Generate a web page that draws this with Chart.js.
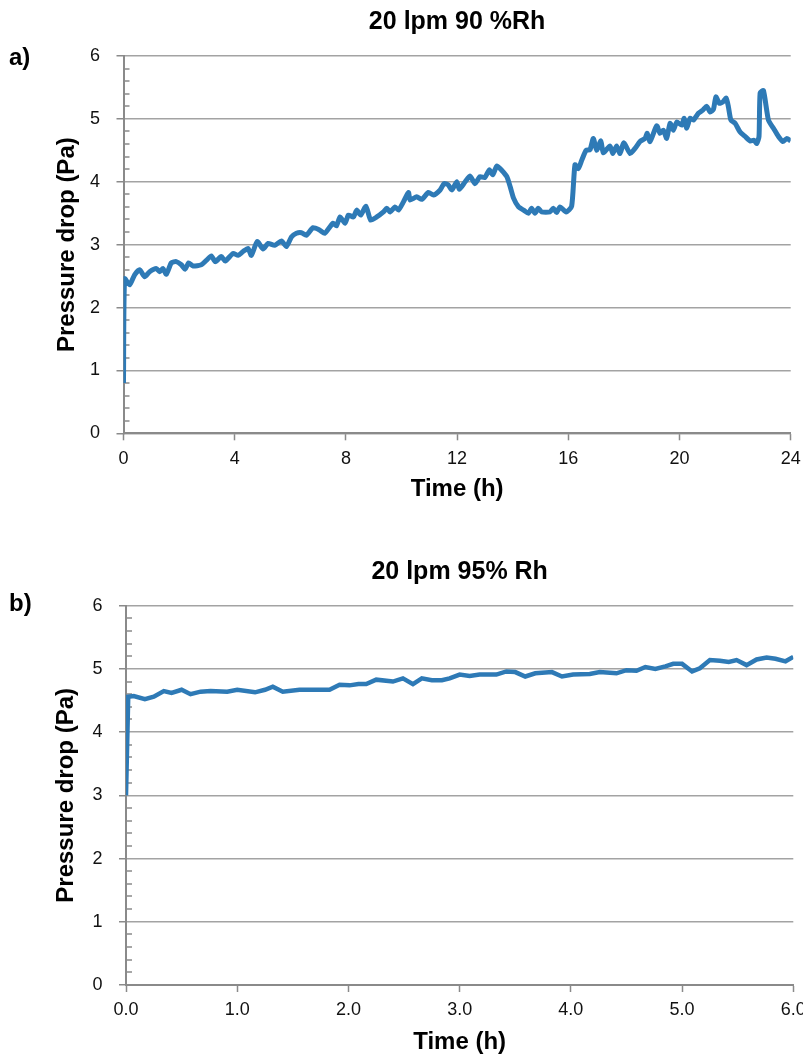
<!DOCTYPE html>
<html>
<head>
<meta charset="utf-8">
<script src="https://cdn.jsdelivr.net/npm/chart.js@4.4.1/dist/chart.umd.min.js"></script>
<style>
  body { margin: 0; background: #fff; width: 803px; height: 1059px; position: relative; overflow: hidden; }
  canvas { position: absolute; left: 0; }
  #chartA { top: 0; }
  #chartB { top: 530px; }
  .panel { position: absolute; left: 9px; font: bold 24px/24px "Liberation Sans", Arial, sans-serif; color: #000; }
</style>
</head>
<body>
<canvas id="chartA" width="803" height="530"></canvas>
<canvas id="chartB" width="803" height="529"></canvas>
<div class="panel" style="top:45px">a)</div>
<div class="panel" style="top:591px">b)</div>
<script>
// a) 20 lpm 90 %Rh
const timeA = [
  0, 0.04, 0.22, 0.4, 0.58, 0.76, 0.94, 1.18, 1.30, 1.42,
  1.54, 1.72, 1.90, 2.08, 2.22, 2.34, 2.50, 2.80, 2.98, 3.16,
  3.30, 3.52, 3.66, 3.94, 4.12, 4.30, 4.48, 4.60, 4.81, 5.02,
  5.20, 5.44, 5.68, 5.86, 6.04, 6.22, 6.40, 6.58, 6.82, 7.06,
  7.24, 7.42, 7.54, 7.66,
  7.79, 7.97, 8.09, 8.27, 8.39, 8.53, 8.72, 8.89, 9.11, 9.35,
  9.47, 9.59, 9.77, 9.89, 10.07, 10.25, 10.31, 10.55, 10.73, 10.97,
  11.15, 11.39, 11.53, 11.68, 11.81, 11.99, 12.08, 12.29, 12.47, 12.64,
  12.82, 13.0, 13.16, 13.28, 13.43, 13.61, 13.79, 13.91, 14.03, 14.21,
  14.39, 14.57, 14.68, 14.80, 14.92, 15.04, 15.34, 15.46, 15.58,
  15.70, 15.92, 16.12, 16.24, 16.36, 16.49, 16.64, 16.78, 16.90, 17.02,
  17.17, 17.26, 17.50, 17.60, 17.74, 17.86, 18.0, 18.22, 18.40, 18.58,
  18.76, 18.84, 18.94, 19.18, 19.30, 19.42, 19.54, 19.66, 19.78, 19.90,
  20.08, 20.17, 20.26, 20.38, 20.50, 20.68, 20.84, 20.98, 21.10, 21.22,
  21.31, 21.43, 21.56, 21.68, 21.76, 21.85, 22.0, 22.18, 22.36, 22.54,
  22.68, 22.78, 22.86, 22.90, 23.02, 23.20, 23.38, 23.56, 23.72, 23.86,
  24.0
];
const pressureA = [
  0.8, 2.46, 2.36, 2.52, 2.60, 2.49, 2.57, 2.62, 2.57, 2.62,
  2.53, 2.71, 2.73, 2.68, 2.61, 2.71, 2.66, 2.68, 2.75, 2.82,
  2.73, 2.81, 2.74, 2.86, 2.83, 2.89, 2.94, 2.83, 3.05, 2.93,
  3.02, 2.99, 3.06, 2.97, 3.12, 3.18, 3.19, 3.15, 3.27, 3.23,
  3.18, 3.28, 3.34, 3.30,
  3.44, 3.34, 3.47, 3.44, 3.55, 3.47, 3.61, 3.39, 3.44, 3.52,
  3.58, 3.52, 3.60, 3.55, 3.68, 3.83, 3.71, 3.76, 3.72, 3.83,
  3.79, 3.87, 3.97, 3.95, 3.87, 4.0, 3.88, 4.0, 4.09, 3.97,
  4.08, 4.07, 4.19, 4.11, 4.25, 4.18, 4.08, 3.92, 3.74, 3.60,
  3.55, 3.50, 3.58, 3.50, 3.58, 3.52, 3.52, 3.58, 3.51,
  3.60, 3.52, 3.61, 4.27, 4.21, 4.35, 4.50, 4.51, 4.69, 4.50,
  4.65, 4.46, 4.57, 4.45, 4.57, 4.45, 4.62, 4.45, 4.53, 4.64,
  4.69, 4.77, 4.64, 4.89, 4.77, 4.82, 4.69, 4.93, 4.82, 4.95,
  4.90, 5.01, 4.85, 5.01, 4.98, 5.09, 5.14, 5.20, 5.11, 5.15,
  5.35, 5.25, 5.27, 5.33, 5.19, 4.98, 4.93, 4.79, 4.72, 4.65,
  4.66, 4.61, 4.72, 5.41, 5.45, 4.98, 4.85, 4.72, 4.64, 4.69,
  4.65
];

// b) 20 lpm 95% Rh
const timeB = [
  0, 0.02, 0.07, 0.17, 0.25, 0.34, 0.41, 0.50, 0.58, 0.67,
  0.76, 0.91, 1.0, 1.16, 1.25, 1.32, 1.41, 1.56, 1.74, 1.83,
  1.92, 2.01, 2.09, 2.16, 2.25, 2.40, 2.49, 2.58, 2.66, 2.75,
  2.84, 2.91, 3.0, 3.09, 3.18, 3.33, 3.42, 3.50, 3.59, 3.68,
  3.83, 3.92, 4.02, 4.17, 4.26, 4.41, 4.50, 4.59, 4.67, 4.76,
  4.85, 4.92, 5.0, 5.09, 5.16, 5.25, 5.34, 5.42, 5.49, 5.58,
  5.67, 5.76, 5.84, 5.93, 6.0
];
const pressureB = [
  3.0, 4.56, 4.57, 4.52, 4.56, 4.65, 4.62, 4.67, 4.60, 4.64,
  4.65, 4.64, 4.67, 4.63, 4.67, 4.72, 4.64, 4.67, 4.67, 4.67,
  4.75, 4.74, 4.76, 4.76, 4.83, 4.80, 4.85, 4.76, 4.85, 4.82,
  4.82, 4.85, 4.91, 4.89, 4.91, 4.91, 4.96, 4.95, 4.88, 4.93,
  4.95, 4.88, 4.91, 4.92, 4.95, 4.93, 4.98, 4.97, 5.03, 5.00,
  5.04, 5.08, 5.08, 4.96, 5.01, 5.14, 5.13, 5.11, 5.14, 5.06,
  5.15, 5.18, 5.16, 5.12, 5.19
];

const yTicks = [0, 1, 2, 3, 4, 5, 6];
const xTicksA = [0, 4, 8, 12, 16, 20, 24];
const xTicksB = [0, 1, 2, 3, 4, 5, 6];

const FONT = '"Liberation Sans", Arial, sans-serif';
const GRID = '#a3a3a3';
const AXIS = '#8a8a8a';
const LINE = '#2e7ab6';

// small inside ticks on the y axis, 5 per unit
const minorTicks = {
  id: 'minorTicks',
  beforeDatasetsDraw(chart) {
    const y = chart.scales.y;
    const ctx = chart.ctx;
    const x0 = chart.chartArea.left;
    ctx.save();
    ctx.strokeStyle = AXIS;
    ctx.lineWidth = 1.5;
    for (let i = 0; i < yTicks.length - 1; i++) {
      const step = (yTicks[i + 1] - yTicks[i]) / 5;
      for (let k = 1; k < 5; k++) {
        const py = Math.round(y.getPixelForValue(yTicks[i] + k * step));
        ctx.beginPath();
        ctx.moveTo(x0, py);
        ctx.lineTo(x0 + 6, py);
        ctx.stroke();
      }
    }
    ctx.restore();
  }
};

function makeChart(id, times, values, xTicks, title, box) {
  return new Chart(document.getElementById(id), {
    type: 'line',
    data: {
      datasets: [{
        data: times.map((t, i) => ({ x: t, y: values[i] })),
        borderColor: LINE,
        borderWidth: box.lineWidth,
        pointRadius: 0,
        tension: box.tension,
        fill: false
      }]
    },
    options: {
      responsive: false,
      animation: false,
      layout: { padding: { left: 0, right: box.padRight, top: 0, bottom: 0 } },
      plugins: {
        legend: { display: false },
        tooltip: { enabled: false },
        title: {
          display: true,
          text: title,
          fullSize: false,
          color: '#000',
          font: { family: FONT, size: 25, weight: 'bold', lineHeight: 1.2 },
          padding: { top: box.titleTop, bottom: box.titleBottom }
        }
      },
      scales: {
        x: {
          type: 'linear',
          min: xTicks[0],
          max: xTicks[xTicks.length - 1],
          afterBuildTicks: s => { s.ticks = xTicks.map(v => ({ value: v })); },
          afterFit: s => { s.height = box.xHeight; s.paddingLeft = 0; s.paddingRight = 0; },
          ticks: {
            color: '#111',
            font: { family: FONT, size: 18 },
            padding: 7.6,
            maxRotation: 0,
            autoSkip: false,
            callback: v => box.fmt(v)
          },
          grid: { drawOnChartArea: false, tickLength: 7, tickColor: AXIS, tickWidth: 1.5 },
          border: { color: AXIS, width: 2 },
          title: {
            display: true,
            text: 'Time (h)',
            color: '#000',
            font: { family: FONT, size: 24, weight: 'bold', lineHeight: 1.2 },
            padding: { top: 0, bottom: box.xTitleBottom }
          }
        },
        y: {
          min: yTicks[0],
          max: yTicks[yTicks.length - 1],
          afterBuildTicks: s => { s.ticks = yTicks.map(v => ({ value: v })); },
          afterFit: s => { s.width = box.yWidth; s.paddingTop = 0; s.paddingBottom = 0; },
          ticks: { color: '#111', font: { family: FONT, size: 18 }, padding: 16.5 },
          grid: { color: GRID, lineWidth: 1.5, tickLength: 7, tickColor: AXIS, tickWidth: 1.5 },
          border: { color: AXIS, width: 2 },
          title: {
            display: true,
            text: 'Pressure drop (Pa)',
            color: '#000',
            font: { family: FONT, size: 24, weight: 'bold', lineHeight: 1.2 },
            padding: { top: box.yTitleTop, bottom: 0 }
          }
        }
      }
    },
    plugins: [minorTicks]
  });
}

makeChart('chartA', timeA, pressureA, xTicksA, '20 lpm 90 %Rh', {
  lineWidth: 5, tension: 0.2, padRight: 12.3,
  titleTop: 7, titleBottom: 19,
  xHeight: 96.7, xTitleBottom: 26.6,
  yWidth: 123.5, yTitleTop: 53,
  fmt: v => String(v)
});

makeChart('chartB', timeB, pressureB, xTicksB, '20 lpm 95% Rh', {
  lineWidth: 4.5, tension: 0, padRight: 9.7,
  titleTop: 27, titleBottom: 18.7,
  xHeight: 74, xTitleBottom: 2.1,
  yWidth: 126, yTitleTop: 52,
  fmt: v => v.toFixed(1)
});
</script>
</body>
</html>
